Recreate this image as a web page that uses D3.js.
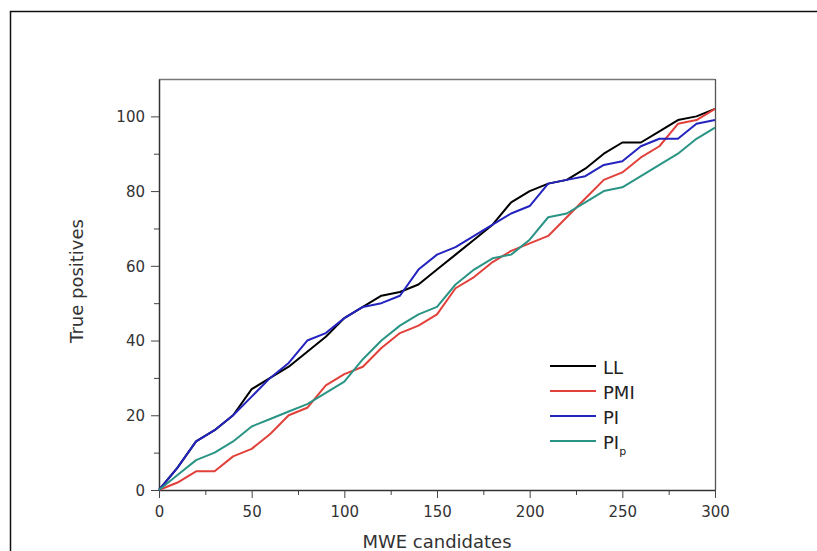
<!DOCTYPE html>
<html>
<head>
<meta charset="utf-8">
<script src="https://cdn.jsdelivr.net/npm/d3@7"></script>
<style>
  html, body { margin: 0; padding: 0; background: #fff; }
  svg { display: block; }
</style>
</head>
<body>
<svg id="chart" width="817" height="551"></svg>
<script>
// Number of MWE candidates examined (x) and true positives found (y) per measure
const candidates = d3.range(0, 301, 10);
const seriesNames = ["LL", "PMI", "PI", "PI_p"];
const llValues   = [0, 6, 13, 16, 20, 27, 30, 33, 37, 41, 46, 49, 52, 53, 55, 59, 63, 67, 71, 77, 80, 82, 83, 86, 90, 93, 93, 96, 99, 100, 102];
const pmiValues  = [0, 2, 5, 5, 9, 11, 15, 20, 22, 28, 31, 33, 38, 42, 44, 47, 54, 57, 61, 64, 66, 68, 73, 78, 83, 85, 89, 92, 98, 99, 102];
const piValues   = [0, 6, 13, 16, 20, 25, 30, 34, 40, 42, 46, 49, 50, 52, 59, 63, 65, 68, 71, 74, 76, 82, 83, 84, 87, 88, 92, 94, 94, 98, 99];
const pipValues  = [0, 4, 8, 10, 13, 17, 19, 21, 23, 26, 29, 35, 40, 44, 47, 49, 55, 59, 62, 63, 67, 73, 74, 77, 80, 81, 84, 87, 90, 94, 97];
const seriesColors = ["#000000", "#e2403a", "#2323bf", "#2a9485"];
const xTicks = [0, 50, 100, 150, 200, 250, 300];
const yTicks = [0, 20, 40, 60, 80, 100];

const series = [llValues, pmiValues, piValues, pipValues].map((vals, i) => ({
  name: seriesNames[i],
  color: seriesColors[i],
  points: candidates.map((c, j) => ({ x: c, y: vals[j] }))
}));

const svg = d3.select("#chart");
const margin = { left: 159, right: 715, top: 79, bottom: 490 };

const x = d3.scaleLinear().domain([0, 300]).range([margin.left, margin.right]);
const y = d3.scaleLinear().domain([0, 110]).range([margin.bottom, margin.top]);

// outer figure frame
svg.append("rect")
  .attr("x", 10.5).attr("y", 11.5)
  .attr("width", 900).attr("height", 700)
  .attr("fill", "none").attr("stroke", "#111").attr("stroke-width", 1.5);

const tickFont = "DejaVu Sans, Verdana, sans-serif";

// top and right frame of the plot box
svg.append("line")
  .attr("x1", margin.left).attr("x2", margin.right)
  .attr("y1", margin.top + 0.5).attr("y2", margin.top + 0.5)
  .attr("stroke", "#777").attr("stroke-width", 1.3);
svg.append("line")
  .attr("x1", margin.right + 0.5).attr("x2", margin.right + 0.5)
  .attr("y1", margin.top).attr("y2", margin.bottom)
  .attr("stroke", "#555").attr("stroke-width", 1.3);

// minor ticks
svg.append("g")
  .attr("transform", `translate(0,${margin.bottom})`)
  .call(d3.axisBottom(x).tickValues(d3.range(25, 300, 50)).tickSize(5).tickFormat(""))
  .call(g => g.select(".domain").remove())
  .call(g => g.selectAll("line").attr("stroke", "#444"));
svg.append("g")
  .attr("transform", `translate(${margin.left},0)`)
  .call(d3.axisLeft(y).tickValues(d3.range(10, 110, 20)).tickSize(5).tickFormat(""))
  .call(g => g.select(".domain").remove())
  .call(g => g.selectAll("line").attr("stroke", "#444"));

// major axes
const xAxis = svg.append("g")
  .attr("transform", `translate(0,${margin.bottom})`)
  .call(d3.axisBottom(x).tickValues(xTicks).tickSize(8).tickSizeOuter(0));
xAxis.selectAll("text").attr("y", 27).attr("dy", 0);

const yAxis = svg.append("g")
  .attr("transform", `translate(${margin.left},0)`)
  .call(d3.axisLeft(y).tickValues(yTicks).tickSize(8).tickSizeOuter(0).tickPadding(6));
yAxis.selectAll("text").attr("dy", "0.36em");

[xAxis, yAxis].forEach(g => {
  g.select(".domain").attr("stroke", "#333").attr("stroke-width", 1.5);
  g.selectAll(".tick line").attr("stroke", "#444");
  g.selectAll("text")
    .attr("fill", "#333")
    .style("font-family", tickFont)
    .style("font-size", "15px");
});

// axis titles
svg.append("text")
  .attr("x", (margin.left + margin.right) / 2).attr("y", 548)
  .attr("text-anchor", "middle")
  .attr("fill", "#333")
  .style("font-family", tickFont).style("font-size", "18px")
  .text("MWE candidates");
svg.append("text")
  .attr("transform", `translate(83,281) rotate(-90)`)
  .attr("text-anchor", "middle")
  .attr("fill", "#333")
  .style("font-family", tickFont).style("font-size", "18px")
  .text("True positives");

// series lines
const line = d3.line().x(d => x(d.x)).y(d => y(d.y));
const plot = svg.append("g");
series.forEach(s => {
  plot.append("path")
    .datum(s.points)
    .attr("d", line)
    .attr("fill", "none")
    .attr("stroke", s.color)
    .attr("stroke-width", 2)
    .attr("stroke-linejoin", "round");
});

// legend
const legend = svg.append("g").attr("transform", "translate(550,366)");
series.forEach((s, i) => {
  const row = legend.append("g").attr("transform", `translate(0,${i * 25})`);
  row.append("line")
    .attr("x1", 0).attr("x2", 46)
    .attr("stroke", s.color).attr("stroke-width", 2);
  const label = row.append("text")
    .attr("x", 53).attr("y", 8)
    .attr("fill", "#222")
    .style("font-family", tickFont).style("font-size", "18px");
  const parts = s.name.split("_");
  label.append("tspan").text(parts[0]);
  if (parts[1]) {
    label.append("tspan")
      .attr("dy", 6)
      .style("font-size", "11px")
      .text(parts[1]);
  }
});
</script>
</body>
</html>
